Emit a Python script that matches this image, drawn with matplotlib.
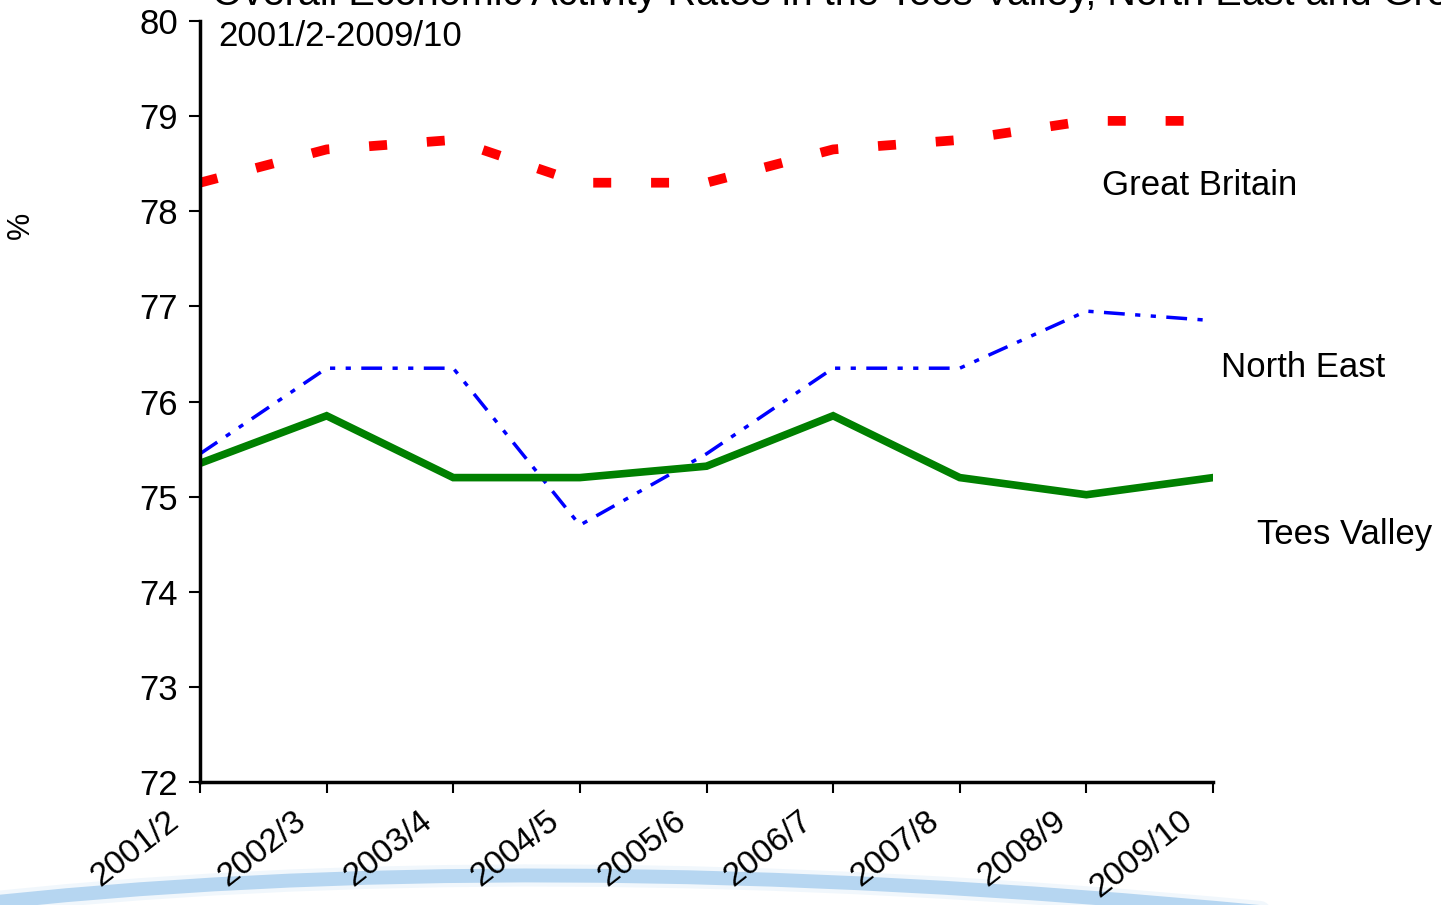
import numpy as np
import matplotlib
matplotlib.use("Agg")
import matplotlib.pyplot as plt
from matplotlib.path import Path
from matplotlib.patches import PathPatch
from matplotlib.transforms import ScaledTranslation

plt.rcParams['font.family'] = ['Liberation Sans', 'DejaVu Sans']

# data
years = ['2001/2', '2002/3', '2003/4', '2004/5', '2005/6',
         '2006/7', '2007/8', '2008/9', '2009/10']
great_britain = [78.3, 78.65, 78.75, 78.3, 78.3, 78.65, 78.75, 78.95, 78.95]
north_east = [75.45, 76.35, 76.35, 74.7, 75.45, 76.35, 76.35, 76.95, 76.85]
tees_valley = [75.35, 75.85, 75.2, 75.2, 75.32, 75.85, 75.2, 75.02, 75.2]

W, H = 1441, 905
fig = plt.figure(figsize=(W / 100, H / 100), dpi=100)

# decorative swoosh behind the chart
bg = fig.add_axes([0, 0, 1, 1], zorder=-5)
bg.set_xlim(0, W)
bg.set_ylim(H, 0)
bg.axis('off')
verts = [(-40, 906), (520, 842), (1260, 912)]
for lw, a in [(16, 0.12), (10, 0.6)]:
    p = Path(verts, [Path.MOVETO, Path.CURVE3, Path.CURVE3])
    bg.add_patch(PathPatch(p, fill=False, edgecolor='#8fc0ea', lw=lw, alpha=a,
                           capstyle='round'))

ax = fig.add_axes([200 / W, 1 - 782 / H, 1013 / W, 761 / H])
x = np.arange(len(years))

ax.plot(x, great_britain, color='#ff0000', lw=7, dashes=(1.85, 4.1),
        solid_capstyle='butt', dash_capstyle='butt')
ax.plot(x, north_east, color='#0000ff', lw=2.5,
        dashes=(6.0, 3.0, 1.5, 3.0, 1.5, 3.0))
ax.plot(x, tees_valley, color='#008000', lw=5.5, solid_joinstyle='miter')

ax.set_xlim(0, len(years) - 1)
ax.set_ylim(72, 80)
ax.set_yticks(range(72, 81))
ax.set_xticks(x)
ax.set_xticklabels([])
ax.tick_params(axis='x', direction='out', length=8, width=1.5)
ax.tick_params(axis='y', direction='out', length=8, width=1.5, pad=8,
               labelsize=25)

# rotated category labels, baseline ends just below-left of each tick
off = ScaledTranslation(-19 / 100, -42 / 100, fig.dpi_scale_trans)
for xi, lab in zip(x, years):
    ax.text(xi, 0, lab, transform=ax.get_xaxis_transform() + off,
            rotation=38, rotation_mode='anchor', ha='right', va='baseline',
            fontsize=24, clip_on=False)

for s in ['top', 'right']:
    ax.spines[s].set_visible(False)
for s in ['left', 'bottom']:
    ax.spines[s].set_linewidth(2.5)
ax.patch.set_alpha(0)

# series labels
ax.text(7.12, 78.27, 'Great Britain', fontsize=25, va='center', ha='left',
        clip_on=False)
ax.text(8.06, 76.36, 'North East', fontsize=25, va='center', ha='left',
        clip_on=False)
ax.text(8.35, 74.6, 'Tees Valley', fontsize=25, va='center', ha='left',
        clip_on=False)

# title (first line runs off the top of the picture, as in the original)
fig.text(212 / W, 1 - 5 / H,
         'Overall Economic Activity Rates in the Tees Valley, North East and Great Britain',
         fontsize=28.5, ha='left', va='baseline')
fig.text(218 / W, 1 - 46 / H, '2001/2-2009/10', fontsize=25,
         ha='left', va='baseline')

fig.text(21 / W, 1 - 225 / H, '%', fontsize=22, rotation=90,
         ha='center', va='center')

fig.savefig('out.png', dpi=100)
